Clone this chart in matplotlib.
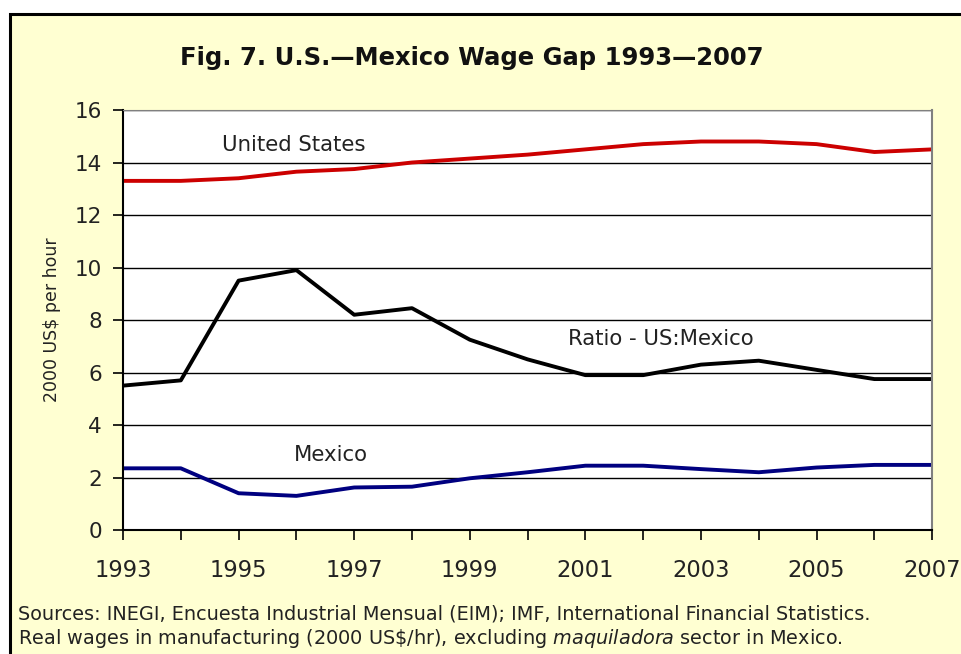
import matplotlib
matplotlib.use('Agg')
import matplotlib.pyplot as plt
from matplotlib.patches import Rectangle

plt.rcParams['font.family'] = ['DejaVu Sans']
plt.rcParams['mathtext.fontset'] = 'custom'
plt.rcParams['mathtext.it'] = 'DejaVu Sans:italic'
plt.rcParams['mathtext.rm'] = 'DejaVu Sans'

# wages in 2000 US$ per hour, and the US:Mexico ratio
years = list(range(1993, 2008))
us_wage = [13.3, 13.3, 13.4, 13.65, 13.75, 14.0, 14.15, 14.3, 14.5, 14.7, 14.8, 14.8, 14.7, 14.4, 14.5]
mx_wage = [2.35, 2.35, 1.4, 1.3, 1.62, 1.65, 1.97, 2.2, 2.45, 2.45, 2.32, 2.2, 2.38, 2.48, 2.48]
ratio = [5.5, 5.7, 9.5, 9.9, 8.2, 8.45, 7.25, 6.5, 5.9, 5.9, 6.3, 6.45, 6.1, 5.75, 5.75]
year_labels = [str(y) if y % 2 == 1 else '' for y in years]

fig = plt.figure(figsize=(9.61, 6.54), dpi=100, facecolor='white')
# pale yellow panel with black frame
fig.patches.append(Rectangle((0.0104, -0.1), 1.2, 1.0786, transform=fig.transFigure,
                             facecolor='#FFFFD2', edgecolor='black', linewidth=2.2, zorder=-10))

ax = fig.add_axes([0.128, 0.1896, 0.842, 0.6422])
ax.set_facecolor('white')
ax.plot(years, us_wage, color='#CC0000', lw=2.8)
ax.plot(years, ratio, color='black', lw=2.8)
ax.plot(years, mx_wage, color='#000080', lw=2.8)

ax.set_xlim(1993, 2007)
ax.set_ylim(0, 16)
ax.set_yticks(range(0, 17, 2))
ax.set_xticks(years)
ax.set_xticklabels(year_labels)
ax.yaxis.grid(True, color='black', lw=1)
ax.set_axisbelow(True)
ax.tick_params(axis='y', direction='out', length=7, width=1.2, labelsize=15.5, pad=8,
               labelcolor='#222222')
ax.tick_params(axis='x', direction='out', length=7, width=1.2, labelsize=16.3, pad=14,
               labelcolor='#222222')
ax.spines['left'].set_linewidth(1.5)
ax.spines['bottom'].set_linewidth(1.5)
ax.spines['top'].set_color('#808080')
ax.spines['right'].set_color('#808080')
ax.spines['right'].set_linewidth(1.5)
ax.set_ylabel('2000 US$ per hour', fontsize=12.5, color='#222222', labelpad=10)

ax.text(1995.95, 14.65, 'United States', fontsize=15.3, ha='center', va='center', color='#222222')
ax.text(2000.7, 7.26, 'Ratio - US:Mexico', fontsize=15.3, ha='left', va='center', color='#222222')
ax.text(1996.6, 2.85, 'Mexico', fontsize=15.3, ha='center', va='center', color='#222222')

fig.text(0.491, 0.9006, 'Fig. 7. U.S.\u2014Mexico Wage Gap 1993\u20142007',
         fontsize=17.5, fontweight='bold', ha='center', va='baseline', color='#111111')
fig.text(0.019, 0.061, 'Sources: INEGI, Encuesta Industrial Mensual (EIM); IMF, International Financial Statistics.',
         fontsize=13.85, ha='left', va='center', color='#222222')
fig.text(0.019, 0.024, r'Real wages in manufacturing (2000 US\$/hr), excluding $\it{maquiladora}$ sector in Mexico.',
         fontsize=13.85, ha='left', va='center', color='#222222')

fig.savefig('out.png', dpi=100, facecolor=fig.get_facecolor())
